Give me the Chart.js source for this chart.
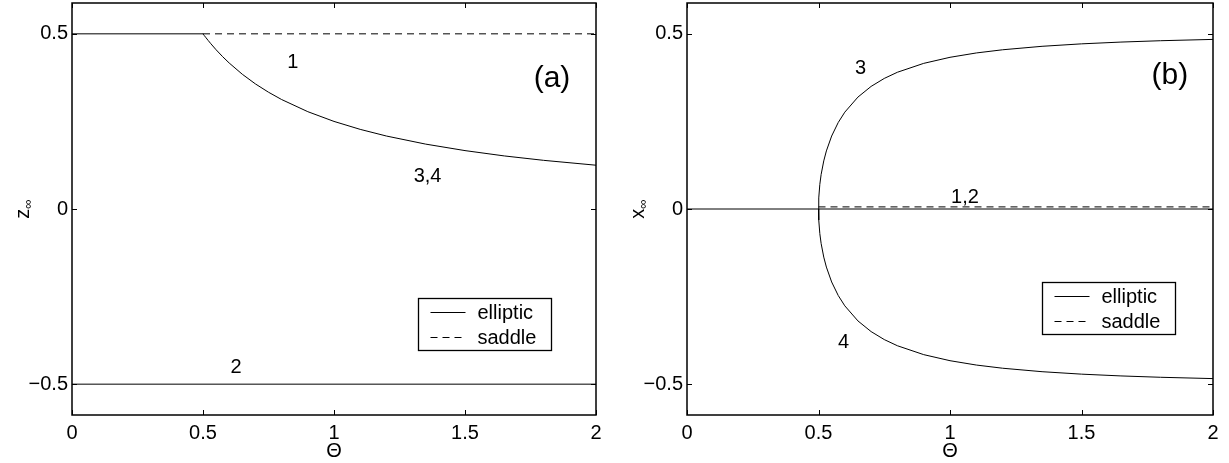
<!DOCTYPE html>
<html>
<head>
<meta charset="utf-8">
<script src="https://cdn.jsdelivr.net/npm/chart.js@4"></script>
<style>
html,body{margin:0;padding:0;background:#fff;}
#wrap{position:relative;width:1229px;height:463px;}
.panel{position:absolute;top:0;height:463px;}
#pa{left:0;width:615px;}
#pb{left:615px;width:614px;}
</style>
</head>
<body>
<div id="wrap">
  <div class="panel" id="pa"><canvas id="chartA"></canvas></div>
  <div class="panel" id="pb"><canvas id="chartB"></canvas></div>
</div>
<script>
const $ = id => document.getElementById(id);

// ===== DATA =====
// Theta samples along the branch that leaves the fixed points at Theta = 0.5
const thetaBranch = [0.5,0.501,0.505,0.51,0.52,0.53,0.55,0.575,0.6,0.65,0.7,0.75,0.8,0.9,1.0,1.1,1.2,1.35,1.5,1.65,1.8,2.0];
// (a) z_inf of branches 3,4
const zBranch = [0.5,0.499,0.495,0.4902,0.4808,0.4717,0.4545,0.4348,0.4167,0.3846,0.3571,0.3333,0.3125,0.2778,0.25,0.2273,0.2083,0.1852,0.1667,0.1515,0.1389,0.125];
// (b) x_inf of branch 3 and branch 4
const xUpper = [0,0.0316,0.0702,0.0985,0.1373,0.1658,0.2083,0.2469,0.2764,0.3195,0.3499,0.3727,0.3903,0.4157,0.433,0.4454,0.4545,0.4644,0.4714,0.4765,0.4803,0.4841];
const xLower = [0,-0.0316,-0.0702,-0.0985,-0.1373,-0.1658,-0.2083,-0.2469,-0.2764,-0.3195,-0.3499,-0.3727,-0.3903,-0.4157,-0.433,-0.4454,-0.4545,-0.4644,-0.4714,-0.4765,-0.4803,-0.4841];
// straight branches: elliptic up to the bifurcation, saddle after it
const thetaElliptic = [0, 0.5];
const thetaSaddle = [0.5, 2];
const thetaAll = [0, 2];
const zBranch1 = [0.5, 0.5];
const zBranch2 = [-0.5, -0.5];
const xBranch12 = [0, 0];
const xSaddle12 = [0.006, 0.006];

const xTicks = [0, 0.5, 1, 1.5, 2];
const yTicks = [-0.5, 0, 0.5];
const legendLabels = ['elliptic', 'saddle'];

// ===== HELPERS =====
const FONT = '"Liberation Sans", Arial, Helvetica, sans-serif';
const pts = (xs, ys) => xs.map((v, i) => ({x: v, y: ys[i]}));
const fmt = v => (v < 0 ? '\u2212' + Math.abs(v) : String(v));
const solid = (xs, ys) => ({data: pts(xs, ys), borderColor: '#000', borderWidth: 1, pointRadius: 0});
const dashed = (xs, ys) => ({...solid(xs, ys), borderDash: [7, 5]});

// frame, inward ticks, curve numbers, legend box and axis titles
const decor = {
  id: 'decor',
  afterDraw(chart, args, o) {
    const {ctx, chartArea: a, scales: {x, y}} = chart;
    ctx.save();
    ctx.strokeStyle = '#000';
    ctx.fillStyle = '#000';

    ctx.lineWidth = 1;
    ctx.beginPath();
    xTicks.forEach(v => {
      const px = Math.round(x.getPixelForValue(v)) + 0.5;
      ctx.moveTo(px, a.bottom); ctx.lineTo(px, a.bottom - 5);
      ctx.moveTo(px, a.top); ctx.lineTo(px, a.top + 5);
    });
    yTicks.forEach(v => {
      const py = Math.round(y.getPixelForValue(v)) + 0.5;
      ctx.moveTo(a.left, py); ctx.lineTo(a.left + 5, py);
      ctx.moveTo(a.right, py); ctx.lineTo(a.right - 5, py);
    });
    ctx.stroke();

    ctx.lineWidth = 1.5;
    ctx.strokeRect(a.left, a.top, a.right - a.left, a.bottom - a.top);

    ctx.textAlign = 'center';
    ctx.textBaseline = 'middle';
    o.notes.forEach(n => {
      ctx.font = `${n.size || 20}px ${FONT}`;
      ctx.fillText(n.text, x.getPixelForValue(n.x), y.getPixelForValue(n.y));
    });

    // legend
    const L = Math.round(x.getPixelForValue(o.legendAt[0])) + 0.5;
    const T = Math.round(y.getPixelForValue(o.legendAt[1])) + 0.5;
    const W = 133, H = 52;
    ctx.fillStyle = '#fff';
    ctx.fillRect(L, T, W, H);
    ctx.fillStyle = '#000';
    ctx.lineWidth = 1.3;
    ctx.strokeRect(L, T, W, H);
    ctx.font = `20px ${FONT}`;
    ctx.textAlign = 'left';
    legendLabels.forEach((t, i) => {
      const ly = T + 14 + i * 25;
      ctx.lineWidth = 1;
      ctx.setLineDash(i ? [7, 5] : []);
      ctx.beginPath(); ctx.moveTo(L + 12, ly); ctx.lineTo(L + 47, ly); ctx.stroke();
      ctx.setLineDash([]);
      ctx.fillText(t, L + 59, ly + 1);
    });

    // axis titles
    ctx.textAlign = 'center';
    ctx.font = `20px ${FONT}`;
    ctx.fillText('\u0398', (a.left + a.right) / 2, 451);

    ctx.translate(o.yTitleX, (a.top + a.bottom) / 2);
    ctx.rotate(-Math.PI / 2);
    ctx.textAlign = 'left';
    const main = o.yTitle;
    ctx.font = `20px ${FONT}`;
    const w1 = ctx.measureText(main).width;
    ctx.font = `13px ${FONT}`;
    const w2 = ctx.measureText('\u221e').width;
    const x0 = -(w1 + w2) / 2;
    ctx.font = `20px ${FONT}`;
    ctx.fillText(main, x0, 0);
    ctx.font = `13px ${FONT}`;
    ctx.fillText('\u221e', x0 + w1, 5);
    ctx.restore();
  }
};

function makeChart(id, datasets, padRight, leftWidth, decorOpts) {
  return new Chart($(id), {
    type: 'line',
    data: {datasets},
    plugins: [decor],
    options: {
      responsive: true,
      maintainAspectRatio: false,
      animation: false,
      layout: {padding: {left: 0, top: 3, right: padRight, bottom: 0}},
      elements: {line: {tension: 0}},
      plugins: {legend: {display: false}, tooltip: {enabled: false}, decor: decorOpts},
      scales: {
        x: {
          type: 'linear', min: 0, max: 2,
          afterBuildTicks: s => { s.ticks = xTicks.map(v => ({value: v})); },
          afterFit: s => { s.height = 48; s.paddingLeft = 0; s.paddingRight = 0; },
          grid: {display: false, drawTicks: false},
          border: {display: false},
          ticks: {padding: 6, color: '#000', font: {family: FONT, size: 20}, callback: fmt, maxRotation: 0}
        },
        y: {
          type: 'linear', min: -0.588, max: 0.588,
          afterBuildTicks: s => { s.ticks = yTicks.map(v => ({value: v})); },
          afterFit: s => { s.width = leftWidth; s.paddingTop = 0; s.paddingBottom = 0; },
          grid: {display: false, drawTicks: false},
          border: {display: false},
          ticks: {padding: 4, color: '#000', font: {family: FONT, size: 20}, callback: fmt}
        }
      }
    }
  });
}

// ===== (a) =====
makeChart('chartA', [
  solid(thetaElliptic, zBranch1),
  dashed(thetaSaddle, zBranch1),
  solid(thetaBranch, zBranch),
  solid(thetaAll, zBranch2)
], 19, 72, {
  yTitle: 'z', yTitleX: 23,
  legendAt: [1.32, -0.255],
  notes: [
    {text: '1', x: 0.843, y: 0.419},
    {text: '3,4', x: 1.357, y: 0.093},
    {text: '2', x: 0.626, y: -0.452},
    {text: '(a)', x: 1.832, y: 0.373, size: 30}
  ]
});

// ===== (b) =====
makeChart('chartB', [
  solid(thetaAll, xBranch12),
  dashed(thetaSaddle, xSaddle12),
  solid(thetaBranch, xUpper),
  solid(thetaBranch, xLower)
], 16, 72, {
  yTitle: 'x', yTitleX: 23,
  legendAt: [1.351, -0.209],
  notes: [
    {text: '3', x: 0.66, y: 0.401},
    {text: '4', x: 0.595, y: -0.381},
    {text: '1,2', x: 1.057, y: 0.033},
    {text: '(b)', x: 1.836, y: 0.381, size: 30}
  ]
});
</script>
</body>
</html>
